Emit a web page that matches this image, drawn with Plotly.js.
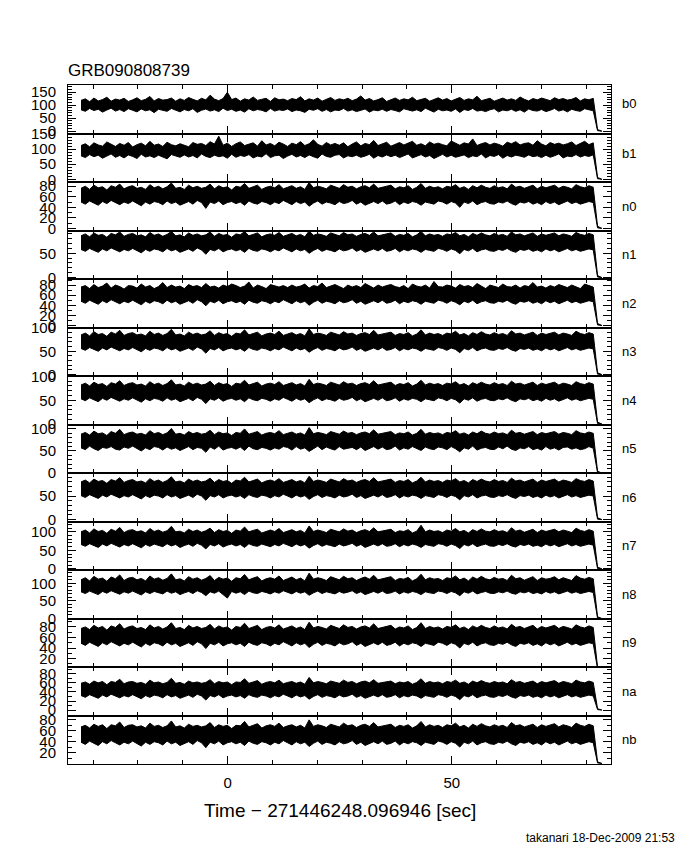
<!DOCTYPE html>
<html>
<head>
<meta charset="utf-8">
<script src="https://cdn.plot.ly/plotly-3.0.1.min.js"></script>
<style>html,body{margin:0;padding:0;background:#fff;}#chart{width:680px;height:850px;}</style>
</head>
<body>
<div id="chart"></div>
<script>
// ---- data: upper and lower envelope of counts per time bin ----
const chartTitle = 'GRB090808739';
const detectors = ['b0','b1','n0','n1','n2','n3','n4','n5','n6','n7','n8','n9','na','nb'];
const tStart = -32.7;   // first bin time [s]
const binSize = 0.96;   // bin width [s]
const xTickVals = [0, 50];

const b0Hi = [118,124,113,127,116,121,130,115,123,119,126,114,
120,128,117,122,133,116,125,119,121,127,115,124,
118,129,122,116,126,120,138,123,117,125,149,121,
127,115,124,119,131,118,122,126,114,128,120,123,
117,125,121,132,116,124,119,127,115,122,129,118,
124,120,126,117,123,135,119,125,116,121,128,114,
122,127,118,124,120,130,117,123,126,115,121,128,
119,125,116,122,129,118,124,120,134,117,123,126,
115,121,127,119,124,118,131,122,116,125,120,127,
123,117,128,121,125,119,122,129,116,124,120,126,6,0];
const b0Lo = [82,76,87,79,84,73,81,88,77,83,75,86,
80,74,85,78,82,71,84,79,76,87,81,74,
83,78,86,72,80,85,77,82,75,88,79,84,
76,81,73,86,78,83,80,74,87,77,82,79,
85,75,81,78,72,84,80,86,76,83,74,81,
79,87,77,82,75,80,85,73,81,78,84,76,
83,79,74,86,80,77,82,75,88,79,73,84,
78,81,76,85,72,83,79,87,77,80,75,82,
86,74,81,78,84,76,82,73,85,79,77,83,
75,80,87,77,82,74,84,79,76,86,81,78,2,0];
const b1Hi = [112,118,108,121,114,110,124,116,109,119,113,122,
107,115,120,111,126,113,117,109,123,115,111,118,
114,108,122,116,119,112,125,117,143,113,120,109,
118,124,112,116,121,110,128,114,119,111,123,117,
109,120,115,125,112,118,131,116,110,122,114,119,
113,121,108,117,124,111,119,115,129,112,118,123,
110,116,122,114,120,126,113,118,111,124,116,120,
115,111,127,119,113,121,117,134,112,118,122,114,
120,116,110,123,118,125,114,119,121,113,128,117,
111,122,116,120,114,118,124,112,119,126,115,121,6,0];
const b1Lo = [78,72,82,75,80,70,77,84,73,79,71,81,
76,69,83,74,78,72,80,75,68,82,77,73,
81,74,79,71,84,76,72,80,75,78,70,83,
73,79,76,82,71,77,74,85,72,78,80,69,
77,83,74,79,72,81,75,70,84,76,73,80,
82,71,78,75,80,73,77,83,70,79,74,81,
75,80,72,78,84,71,76,82,74,79,69,77,
83,74,80,73,77,81,72,78,75,84,71,79,
76,82,70,79,74,80,77,73,81,75,78,72,
80,73,78,84,71,77,75,82,74,79,76,81,2,0];
const n0Hi = [76,80,74,82,77,79,73,81,78,84,75,79,
81,76,78,74,83,77,80,75,79,86,76,78,
74,82,77,80,76,78,84,75,81,77,79,73,
80,78,85,76,79,82,74,78,80,77,83,75,
78,81,76,79,74,87,77,80,78,75,82,79,
76,83,78,80,75,79,81,77,84,76,78,80,
82,75,79,77,81,74,78,85,76,80,77,79,
75,80,78,83,76,79,74,81,77,82,78,76,
81,77,79,75,84,78,80,76,79,82,75,80,
77,79,82,76,80,78,75,83,79,77,81,78,4,0];
const n0Lo = [50,46,52,48,44,51,47,53,49,45,50,47,
52,48,43,50,46,51,49,45,52,47,50,44,
48,51,46,53,49,38,50,47,52,45,49,51,
47,50,44,52,48,46,51,49,45,50,47,53,
49,45,51,47,50,42,48,52,46,50,48,45,
51,47,49,53,46,50,44,48,51,47,52,46,
48,52,45,50,47,51,49,44,50,48,46,52,
50,46,51,48,40,50,47,52,45,49,51,47,
46,50,48,52,47,44,50,48,51,46,49,45,
51,47,50,45,49,52,47,50,46,48,51,49,1,0];
const n1Hi = [86,90,84,92,87,89,83,91,88,94,85,89,
91,86,88,84,93,87,90,85,89,95,86,88,
84,92,87,90,86,88,94,85,91,87,89,83,
90,88,95,86,89,92,84,88,90,87,93,85,
88,91,86,89,84,96,87,90,88,85,92,89,
86,93,88,90,85,89,91,87,94,86,88,90,
92,85,89,87,91,84,88,95,86,90,87,89,
85,90,88,93,86,89,84,91,87,92,88,86,
91,87,89,85,94,88,90,86,89,92,85,90,
87,89,92,86,90,88,85,93,89,87,91,88,4,0];
const n1Lo = [58,54,60,56,52,59,55,61,57,53,58,55,
60,56,51,58,54,59,57,53,60,55,58,52,
56,59,54,61,57,48,58,55,60,53,57,59,
55,58,52,60,56,54,59,57,53,58,55,61,
57,53,59,55,58,50,56,60,54,58,56,53,
59,55,57,61,54,58,52,56,59,55,60,54,
56,60,53,58,55,59,57,52,58,56,54,60,
58,54,59,56,49,58,55,60,53,57,59,55,
54,58,56,60,55,52,58,56,59,54,57,53,
59,55,58,53,57,60,55,58,54,56,59,57,1,0];
const n2Hi = [76,79,73,81,75,78,84,74,80,77,72,79,
78,74,82,76,79,73,77,85,75,80,76,78,
73,81,77,79,75,83,76,78,74,80,77,82,
79,75,78,86,74,80,77,73,81,78,76,79,
75,80,76,78,82,74,79,77,84,75,78,81,
77,73,80,76,79,75,83,78,74,80,76,79,
81,77,75,79,73,82,78,76,80,74,87,77,
76,80,78,74,81,77,79,75,83,78,73,80,
78,75,82,77,76,80,74,79,77,85,76,78,
74,79,76,81,78,75,80,77,73,82,79,76,4,0];
const n2Lo = [48,44,50,46,42,49,45,51,47,43,48,45,
50,46,41,48,44,49,47,43,50,45,48,42,
46,49,44,51,47,39,48,45,50,43,47,49,
45,48,42,50,46,44,49,47,43,48,45,51,
47,43,49,45,48,40,46,50,44,48,46,43,
49,45,47,51,44,48,42,46,49,45,50,44,
46,50,43,48,45,49,47,42,48,46,44,50,
48,44,49,46,41,48,45,50,43,47,49,45,
44,48,46,50,45,42,48,46,49,44,47,43,
49,45,48,43,47,50,45,48,44,46,49,47,1,0];
const n3Hi = [85,89,83,92,86,88,82,91,87,95,84,88,
90,85,87,83,93,86,89,84,88,97,85,87,
83,91,86,89,85,87,94,84,90,86,88,82,
89,87,96,85,88,91,83,87,89,86,93,84,
87,90,85,88,83,98,86,89,87,84,91,88,
85,92,87,89,84,88,90,86,95,85,87,89,
91,84,88,86,90,83,87,96,85,89,86,88,
84,89,87,93,85,88,83,90,86,92,87,85,
90,86,88,84,94,87,89,85,88,91,84,89,
86,88,91,85,89,87,84,93,88,86,90,87,4,0];
const n3Lo = [56,52,58,54,50,57,53,59,55,51,56,53,
58,54,49,56,52,57,55,51,58,53,56,50,
54,57,52,59,55,46,56,53,58,51,55,57,
53,56,50,58,54,52,57,55,51,56,53,59,
55,51,57,53,56,48,54,58,52,56,54,51,
57,53,55,59,52,56,50,54,57,53,58,52,
54,58,51,56,53,57,55,50,56,54,52,58,
56,52,57,54,47,56,53,58,51,55,57,53,
52,56,54,58,53,50,56,54,57,52,55,51,
57,53,56,51,55,58,53,56,52,54,57,55,1,0];
const n4Hi = [82,86,80,88,83,85,79,87,84,91,81,85,
87,82,84,80,89,83,86,81,85,93,82,84,
80,88,83,86,82,84,90,81,87,83,85,79,
86,84,92,82,85,88,80,84,86,83,89,81,
84,87,82,85,80,94,83,86,84,81,88,85,
82,89,84,86,81,85,87,83,91,82,84,86,
88,81,85,83,87,80,84,92,82,86,83,85,
81,86,84,89,82,85,80,87,83,88,84,82,
87,83,85,81,90,84,86,82,85,88,81,86,
83,85,88,82,86,84,81,89,85,83,87,84,4,0];
const n4Lo = [53,49,55,51,47,54,50,56,52,48,53,50,
55,51,46,53,49,54,52,48,55,50,53,47,
51,54,49,56,52,43,53,50,55,48,52,54,
50,53,47,55,51,49,54,52,48,53,50,56,
52,48,54,50,53,45,51,55,49,53,51,48,
54,50,52,56,49,53,47,51,54,50,55,49,
51,55,48,53,50,54,52,47,53,51,49,55,
53,49,54,51,44,53,50,55,48,52,54,50,
49,53,51,55,50,47,53,51,54,49,52,48,
54,50,53,48,52,55,50,53,49,51,54,52,1,0];
const n5Hi = [88,92,86,95,89,91,85,94,90,99,87,91,
93,88,90,86,96,89,92,87,91,101,88,90,
86,94,89,92,88,90,97,87,93,89,91,85,
92,90,100,88,91,94,86,90,92,89,96,87,
90,93,88,91,86,103,89,92,90,87,94,91,
88,95,90,92,87,91,93,89,98,88,90,92,
94,87,91,89,93,86,90,99,88,92,89,91,
87,92,90,96,88,91,86,93,89,95,90,88,
93,89,91,87,97,90,92,88,91,94,87,92,
89,91,94,88,92,90,87,96,91,89,93,90,4,0];
const n5Lo = [57,53,61,55,51,58,56,60,54,52,59,56,
61,55,50,57,53,60,58,52,59,54,57,51,
55,60,53,58,56,47,59,54,61,52,56,58,
54,59,51,61,55,53,58,56,52,57,54,60,
58,52,60,54,57,49,55,61,53,59,55,52,
60,54,56,58,53,59,51,55,60,54,59,53,
55,61,52,57,54,60,56,51,59,55,53,59,
57,53,60,55,48,57,54,61,52,56,58,54,
53,59,55,61,54,51,57,55,60,53,56,52,
60,54,57,52,58,59,54,57,53,55,60,56,1,0];
const n6Hi = [80,84,78,86,81,83,77,85,82,89,79,83,
85,80,82,78,87,81,84,79,83,91,80,82,
78,86,81,84,80,82,88,79,85,81,83,77,
84,82,90,80,83,86,78,82,84,81,87,79,
82,85,80,83,78,92,81,84,82,79,86,83,
80,87,82,84,79,83,85,81,89,80,82,84,
86,79,83,81,85,78,82,90,80,84,81,83,
79,84,82,87,80,83,78,85,81,86,82,80,
85,81,83,79,88,82,84,80,83,86,79,84,
81,83,86,80,84,82,79,87,83,81,85,82,4,0];
const n6Lo = [51,47,53,49,45,52,48,54,50,46,51,48,
53,49,44,51,47,52,50,46,53,48,51,45,
49,52,47,54,50,41,51,48,53,46,50,52,
48,51,45,53,49,47,52,50,46,51,48,54,
50,46,52,48,51,43,49,53,47,51,49,46,
52,48,50,54,47,51,45,49,52,48,53,47,
49,53,46,51,48,52,50,45,51,49,47,53,
51,47,52,49,42,51,48,53,46,50,52,48,
47,51,49,53,48,45,51,49,52,47,50,46,
52,48,51,46,50,53,48,51,47,49,52,50,1,0];
const n7Hi = [100,105,97,108,101,104,96,107,102,112,98,104,
106,100,103,97,109,101,105,99,103,115,100,102,
97,107,101,105,99,103,110,98,106,101,104,96,
105,102,113,100,104,107,97,102,105,101,109,98,
102,106,100,104,97,116,101,105,102,98,107,104,
100,108,102,105,98,103,106,101,111,100,102,105,
107,98,103,101,106,97,102,118,100,105,101,103,
98,105,102,109,100,104,97,106,101,108,102,100,
106,101,103,98,111,102,105,99,103,107,98,105,
101,103,107,100,105,102,98,110,104,101,106,102,5,0];
const n7Lo = [66,61,68,63,58,67,62,69,64,59,66,62,
68,63,57,66,61,67,64,60,68,62,66,58,
63,67,61,69,64,54,66,62,68,59,64,67,
62,66,58,68,63,61,67,64,60,66,62,69,
64,60,67,62,66,56,63,68,61,66,63,60,
67,62,65,69,61,66,58,63,67,62,68,61,
63,68,60,66,62,67,64,58,66,63,61,68,
66,61,67,63,55,66,62,68,60,64,67,62,
61,66,63,68,62,59,66,63,67,61,64,60,
67,62,66,60,64,68,62,66,61,63,67,64,1,0];
const n8Hi = [110,116,107,120,112,115,106,118,113,124,108,115,
117,110,114,107,121,112,116,109,114,127,110,113,
107,119,112,116,109,114,122,108,117,112,115,106,
116,113,125,110,115,119,107,113,116,112,121,108,
113,118,110,115,107,129,112,116,113,108,119,115,
110,120,113,116,108,114,118,112,123,110,113,116,
119,108,114,112,117,107,113,126,110,116,112,114,
108,116,113,121,110,115,107,118,112,120,113,110,
117,112,114,108,123,113,116,109,114,119,108,116,
112,114,119,110,116,113,108,122,115,112,117,113,5,0];
const n8Lo = [76,71,78,73,68,77,72,79,74,69,76,72,
78,73,67,76,71,77,74,70,78,72,76,68,
73,77,71,79,74,65,76,72,78,69,58,77,
72,76,68,78,73,71,77,74,70,76,72,79,
74,70,77,72,76,66,73,78,71,76,73,70,
77,72,75,79,71,76,68,73,77,72,78,71,
73,78,70,76,72,77,74,68,76,73,71,78,
76,71,77,73,65,76,72,78,70,74,77,72,
71,76,73,78,72,69,76,73,77,71,74,70,
77,72,76,70,74,78,72,76,71,73,77,74,1,0];
const n9Hi = [77,80,75,83,78,81,74,82,79,86,76,80,
82,77,79,75,84,78,81,76,80,88,77,79,
75,83,78,81,77,79,85,76,82,78,80,74,
81,79,87,77,80,83,75,79,81,78,84,76,
79,82,77,80,75,89,78,81,79,76,83,80,
77,84,79,81,76,80,82,78,86,77,79,81,
83,76,80,78,82,75,79,88,77,81,78,80,
76,81,79,84,77,80,75,82,78,83,79,77,
82,78,80,76,85,79,81,77,80,83,76,81,
78,80,83,77,81,79,76,84,80,78,82,79,4,0];
const n9Lo = [49,45,51,47,43,50,46,52,48,44,49,46,
51,47,42,49,45,50,48,44,51,46,49,43,
47,50,45,52,48,39,49,46,51,44,48,50,
46,49,43,51,47,45,50,48,44,49,46,52,
48,44,50,46,49,41,47,51,45,49,47,44,
50,46,48,52,45,49,43,47,50,46,51,45,
47,51,44,49,46,50,48,43,49,47,45,51,
49,45,50,47,40,49,46,51,44,48,50,46,
45,49,47,51,46,43,49,47,50,45,48,44,
50,46,49,44,48,51,46,49,45,47,50,48,1,0];
const naHi = [59,62,57,64,60,63,56,63,61,68,58,62,
63,59,61,57,66,60,62,58,61,70,59,61,
57,64,60,62,59,61,67,58,63,60,62,56,
62,61,69,59,62,65,57,61,63,60,66,58,
61,63,59,62,57,72,60,63,61,58,64,62,
59,66,61,63,58,62,64,60,67,59,61,63,
64,58,62,60,63,57,61,69,59,63,60,62,
58,63,61,66,59,62,57,64,60,65,61,59,
63,60,62,58,67,61,63,59,62,64,58,63,
60,62,65,59,63,61,58,66,62,60,64,61,3,0];
const naLo = [32,28,34,30,26,33,29,35,31,27,32,29,
34,30,25,32,28,33,31,27,34,29,32,26,
30,33,28,35,31,22,32,29,34,27,31,33,
29,32,26,34,30,28,33,31,27,32,29,35,
31,27,33,29,32,24,30,34,28,32,30,27,
33,29,31,35,28,32,26,30,33,29,34,28,
30,34,27,32,29,33,31,26,32,30,28,34,
32,28,33,30,23,32,29,34,27,31,33,29,
28,32,30,34,29,26,32,30,33,28,31,27,
33,29,32,27,31,34,29,32,28,30,33,31,1,0];
const nbHi = [67,70,65,72,68,71,64,71,69,76,66,70,
71,67,69,65,74,68,70,66,69,78,67,69,
65,72,68,70,67,69,75,66,71,68,70,64,
70,69,77,67,70,73,65,69,71,68,74,66,
69,71,67,70,65,80,68,71,69,66,72,70,
67,74,69,71,66,70,72,68,75,67,69,71,
72,66,70,68,71,65,69,77,67,71,68,70,
66,71,69,74,67,70,65,72,68,73,69,67,
71,68,70,66,75,69,71,67,70,72,66,71,
68,70,73,67,71,69,66,74,70,68,72,69,3,0];
const nbLo = [39,35,41,37,33,40,36,42,38,34,39,36,
41,37,32,39,35,40,38,34,41,36,39,33,
37,40,35,42,38,29,39,36,41,34,38,40,
36,39,33,41,37,35,40,38,34,39,36,42,
38,34,40,36,39,31,37,41,35,39,37,34,
40,36,38,42,35,39,33,37,40,36,41,35,
37,41,34,39,36,40,38,33,39,37,35,41,
39,35,40,37,30,39,36,41,34,38,40,36,
35,39,37,41,36,33,39,37,40,35,38,34,
40,36,39,34,38,41,36,39,35,37,40,38,1,0];

const upper = [b0Hi,b1Hi,n0Hi,n1Hi,n2Hi,n3Hi,n4Hi,n5Hi,n6Hi,n7Hi,n8Hi,n9Hi,naHi,nbHi];
const lower = [b0Lo,b1Lo,n0Lo,n1Lo,n2Lo,n3Lo,n4Lo,n5Lo,n6Lo,n7Lo,n8Lo,n9Lo,naLo,nbLo];
const yTickVals = [
  [0,50,100,150],[0,50,100,150],[0,20,40,60,80],[0,50],[0,20,40,60,80],
  [0,50,100],[0,50,100],[0,50,100],[0,50],[0,50,100],[0,50,100],
  [20,40,60,80],[0,20,40,60,80],[20,40,60,80]
];

// ---- layout config ----
const yRanges = [[-9,177],[-9,152],[-4,88],[-3,97],[-4,92],[-3,101],[-1,101],
  [0,110],[-4,99],[-3,128],[0,138],[4,96],[-12,95],[-1,88]];
const labelShift = [6,4,0,0,0,0,0,0,0,0,0,0,0,0];
const xRange = [-35.6, 85.5];
const FONT = 'Liberation Sans, Arial, sans-serif';
const nP = detectors.length;

const traces = [];
const layout = {
  width: 680, height: 850,
  margin: {l: 68, r: 69, t: 85, b: 86},
  paper_bgcolor: '#fff', plot_bgcolor: '#fff',
  showlegend: false,
  font: {family: FONT, color: '#000', size: 14},
  title: {text: chartTitle, xref: 'container', x: 68/680, xanchor: 'left',
          yref: 'container', y: 1 - 70/850, yanchor: 'middle',
          font: {family: FONT, size: 17, color: '#000'}},
  annotations: []
};

for (let i = 0; i < nP; i++) {
  const hi = upper[i], lo = lower[i];
  const t = hi.map((v, k) => tStart + k * binSize);
  const sfx = i === 0 ? '' : String(i + 1);
  traces.push({
    x: t, y: lo, type: 'scatter', mode: 'lines',
    xaxis: 'x' + sfx, yaxis: 'y' + sfx,
    line: {color: '#000', width: 1}, hoverinfo: 'skip'
  });
  traces.push({
    x: t, y: hi, type: 'scatter', mode: 'lines',
    xaxis: 'x' + sfx, yaxis: 'y' + sfx, fill: 'tonexty', fillcolor: '#000',
    line: {color: '#000', width: 1}, hoverinfo: 'skip'
  });
  const last = i === nP - 1;
  const xa = {
    anchor: 'y' + sfx,
    range: xRange, showgrid: false, zeroline: false,
    showline: true, linecolor: '#000', linewidth: 1, mirror: 'allticks',
    tickmode: 'array', tickvals: xTickVals, ticks: 'inside', ticklen: 8, tickcolor: '#000',
    minor: {tickmode: 'linear', tick0: 0, dtick: 10, ticks: 'inside', ticklen: 4, tickcolor: '#000'},
    showticklabels: last, ticklabelstandoff: 5,
    tickfont: {family: FONT, size: 15, color: '#000'}
  };
  if (i > 0) xa.matches = 'x';
  layout['xaxis' + (i === 0 ? '' : i + 1)] = xa;
  const d0 = 1 - (i + 1) / nP, d1 = 1 - i / nP;
  layout['yaxis' + (i === 0 ? '' : i + 1)] = {
    anchor: 'x' + sfx, domain: [d0, d1],
    range: yRanges[i], showgrid: false, zeroline: false,
    showline: true, linecolor: '#000', linewidth: 1, mirror: 'allticks',
    tickmode: 'array', tickvals: yTickVals[i], ticks: 'inside', ticklen: 8, tickcolor: '#000',
    minor: {tickmode: 'linear', tick0: 0, dtick: 10, ticks: 'inside', ticklen: 4, tickcolor: '#000'},
    ticklabelstandoff: 8,
    tickfont: {family: FONT, size: 15, color: '#000'}
  };
  layout.annotations.push({
    text: detectors[i], xref: 'paper', yref: 'paper',
    x: (620 - 68) / (611 - 68), xanchor: 'left',
    y: (d0 + d1) / 2, yanchor: 'middle', yshift: labelShift[i],
    showarrow: false, font: {family: FONT, size: 13, color: '#000'}
  });
}

layout.annotations.push({
  text: 'Time \u2212 271446248.096946 [sec]', xref: 'paper', yref: 'paper',
  x: 0.5, xanchor: 'center', y: -(810 - 764) / 679, yanchor: 'middle',
  showarrow: false, font: {family: FONT, size: 19, color: '#000'}
});
layout.annotations.push({
  text: 'takanari 18-Dec-2009 21:53', xref: 'paper', yref: 'paper',
  x: (677 - 68) / (611 - 68), xanchor: 'right', y: -(838 - 764) / 679, yanchor: 'middle',
  showarrow: false, font: {family: FONT, size: 12, color: '#000'}
});

Plotly.newPlot('chart', traces, layout, {staticPlot: true, displayModeBar: false});
</script>
</body>
</html>
